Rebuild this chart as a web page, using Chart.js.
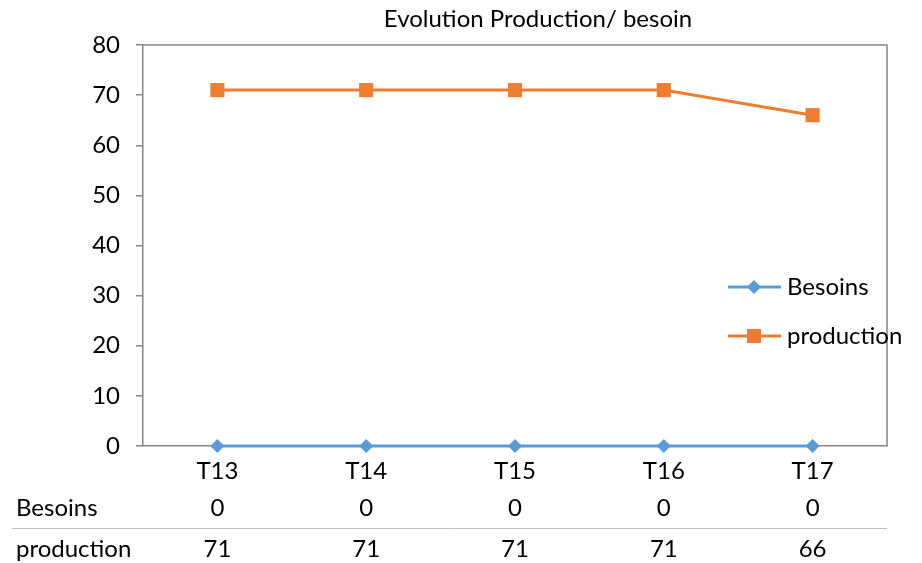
<!DOCTYPE html>
<html>
<head>
<meta charset="utf-8">
<script src="https://cdn.jsdelivr.net/npm/chart.js@4"></script>
<style>
  body { margin: 0; background: #fff; }
  #wrap { width: 922px; height: 563px; }
</style>
</head>
<body>
<div id="wrap"><canvas id="prodChart" width="922" height="563"></canvas></div>
<script>
const categories = ['T13', 'T14', 'T15', 'T16', 'T17'];
const besoins = [0, 0, 0, 0, 0];
const production = [71, 71, 71, 71, 66];
const yTicks = [0, 10, 20, 30, 40, 50, 60, 70, 80];
const chartTitle = 'Evolution Production/ besoin';

const FONT = 'Lato, "Open Sans", sans-serif';
const BLUE = '#5B9BD5';
const ORANGE = '#ED7D31';
const AXIS = '#868686';

// title, plot frame, legend and data table under the axis
const extras = {
  id: 'extras',
  afterDraw(chart) {
    const ctx = chart.ctx;
    const area = chart.chartArea;
    const x = chart.scales.x;
    ctx.save();

    ctx.fillStyle = '#000';
    ctx.font = '24px ' + FONT;
    ctx.textAlign = 'center';
    ctx.textBaseline = 'middle';
    ctx.fillText(chartTitle, 538, 19);

    // frame top + right
    ctx.strokeStyle = AXIS;
    ctx.lineWidth = 1.5;
    ctx.beginPath();
    ctx.moveTo(area.left, area.top);
    ctx.lineTo(area.right, area.top);
    ctx.lineTo(area.right, area.bottom);
    ctx.stroke();

    // legend
    const items = chart.data.datasets;
    items.forEach((ds, i) => {
      const ly = 287 + i * 49;
      ctx.strokeStyle = ds.borderColor;
      ctx.lineWidth = 3;
      ctx.beginPath();
      ctx.moveTo(728, ly);
      ctx.lineTo(781, ly);
      ctx.stroke();
      ctx.fillStyle = ds.borderColor;
      if (ds.pointStyle === 'rect') {
        ctx.fillRect(747, ly - 7, 14, 14);
      } else {
        ctx.beginPath();
        ctx.moveTo(754, ly - 7);
        ctx.lineTo(761, ly);
        ctx.lineTo(754, ly + 7);
        ctx.lineTo(747, ly);
        ctx.closePath();
        ctx.fill();
      }
      ctx.fillStyle = '#000';
      ctx.font = '24px ' + FONT;
      ctx.textAlign = 'left';
      ctx.fillText(ds.label, 787, ly);
    });

    // data table
    ctx.font = '24px ' + FONT;
    items.forEach((ds, i) => {
      const ry = 508 + i * 41;
      ctx.fillStyle = '#000';
      ctx.textAlign = 'left';
      ctx.fillText(ds.label, 16, ry);
      ctx.textAlign = 'center';
      ds.data.forEach((v, j) => {
        ctx.fillText(String(v), x.getPixelForValue(j), ry);
      });
    });
    ctx.strokeStyle = '#BFBFBF';
    ctx.lineWidth = 1;
    ctx.beginPath();
    ctx.moveTo(12, 528.5);
    ctx.lineTo(area.right, 528.5);
    ctx.stroke();

    ctx.restore();
  }
};

new Chart(document.getElementById('prodChart'), {
  type: 'line',
  data: {
    labels: categories,
    datasets: [{
      label: 'Besoins',
      data: besoins,
      borderColor: BLUE,
      backgroundColor: BLUE,
      borderWidth: 3,
      pointStyle: 'rectRot',
      pointRadius: 7,
      pointBorderWidth: 0,
      clip: false
    }, {
      label: 'production',
      data: production,
      borderColor: ORANGE,
      backgroundColor: ORANGE,
      borderWidth: 3,
      pointStyle: 'rect',
      pointRadius: 10,
      pointBorderWidth: 0,
      clip: false
    }]
  },
  options: {
    responsive: false,
    animation: false,
    layout: { padding: { left: 0, top: 45, right: 35, bottom: 77 } },
    plugins: {
      legend: { display: false },
      title: { display: false },
      tooltip: { enabled: false }
    },
    scales: {
      x: {
        offset: true,
        afterFit(scale) { scale.height = 40; },
        grid: { display: false, offset: true },
        border: { color: AXIS, width: 1.5 },
        ticks: { color: '#000', font: { family: FONT, size: 24 }, padding: 3 }
      },
      y: {
        min: 0,
        max: 80,
        afterFit(scale) { scale.width = 143; },
        afterBuildTicks(scale) { scale.ticks = yTicks.map(v => ({ value: v })); },
        grid: { drawOnChartArea: false, tickLength: 7, color: AXIS, lineWidth: 1.5 },
        border: { color: AXIS, width: 1.5 },
        ticks: { color: '#000', font: { family: FONT, size: 24 }, padding: 16 }
      }
    }
  },
  plugins: [extras]
});
</script>
</body>
</html>
